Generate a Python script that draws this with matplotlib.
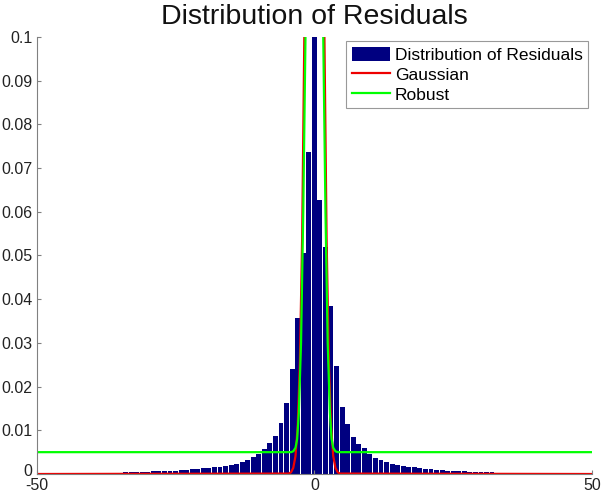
import matplotlib.pyplot as plt
import matplotlib.transforms as mtransforms
import numpy as np

plt.rcParams['font.family'] = ['Liberation Sans', 'DejaVu Sans']

# histogram bin centres -50..50 and heights
bin_centres = np.arange(-50, 51)
left_tail = [0, 0, 0, 0.00002, 0.00003, 0.00004, 0.00005, 0.00006,
             0.00008, 0.0001, 0.00012, 0.00015, 0.00018, 0.0002, 0.00025, 0.0003,
             0.00035, 0.0004, 0.00045, 0.0005, 0.00055, 0.0006, 0.00065, 0.0007,
             0.00075, 0.0008, 0.0009, 0.001, 0.0011, 0.0012, 0.0013, 0.0014,
             0.0015, 0.0017, 0.0019, 0.0021, 0.0024, 0.0028, 0.0033, 0.004,
             0.0046, 0.0058, 0.007, 0.0088, 0.0116, 0.0162, 0.0241, 0.0357,
             0.0505, 0.0736]                       # -50 .. -1
centre = [0.16]                                    # 0 (clipped)
right_tail = [0.0628, 0.052, 0.0385, 0.0248, 0.0154, 0.0114, 0.0085, 0.0068,
              0.0059, 0.0046, 0.0037, 0.0032, 0.0027, 0.0024, 0.0021, 0.0018,
              0.0016, 0.0015, 0.0013, 0.0012, 0.0011, 0.001, 0.0009, 0.0008,
              0.0007, 0.00065, 0.0006, 0.00055, 0.0005, 0.00045, 0.0004, 0.00035,
              0.0003, 0.00025, 0.0002, 0.00017, 0.00014, 0.00011, 0.00009, 0.00007,
              0.00005, 0.00004, 0.00003, 0.00002, 0, 0, 0, 0, 0, 0]  # 1 .. 50
hist_vals = left_tail + centre + right_tail

# fitted curves, points
gauss_x = [-50, -4.6, -4.2, -3.8, -3.4, -3.0, -2.6, -2.2, -1.8, -1.4, -1.0, -0.5, 0,
           0.5, 1.0, 1.4, 1.8, 2.2, 2.6, 3.0, 3.4, 3.8, 4.2, 4.6, 50]
gauss_y = [0, 0.0001, 0.0004, 0.0014, 0.0041, 0.011, 0.026, 0.054, 0.101, 0.165, 0.238, 0.318, 0.35,
           0.318, 0.238, 0.165, 0.101, 0.054, 0.026, 0.011, 0.0041, 0.0014, 0.0004, 0.0001, 0]

robust_x = [-50, -4.2, -3.8, -3.4, -3.1, -2.8, -2.4, -2.0, -1.6, -1.0, 0,
            1.0, 1.6, 2.0, 2.4, 2.8, 3.1, 3.4, 3.8, 4.2, 50]
robust_y = [0.005, 0.005, 0.0052, 0.006, 0.008, 0.014, 0.03, 0.06, 0.1, 0.25, 0.4,
            0.25, 0.1, 0.06, 0.03, 0.014, 0.008, 0.006, 0.0052, 0.005, 0.005]

fig = plt.figure(figsize=(6.02, 4.95), dpi=100)
ax = fig.add_axes([0.061, 0.0424, 0.9224, 0.883])

bars = ax.bar(bin_centres, hist_vals, width=0.88, color='#000080', linewidth=0)
l_gauss, = ax.plot(gauss_x, gauss_y, color='#ee0000', lw=1.6)
l_rob, = ax.plot(robust_x, robust_y, color='#00ff00', lw=1.6)

ax.set_xlim(-50, 50)
ax.set_ylim(0, 0.1)
ax.set_xticks([-50, 0, 50])
ax.set_xticklabels(['-50', '0', '50'])
ax.set_yticks(np.arange(0, 0.1001, 0.01))
ax.set_yticklabels(['0', '0.01', '0.02', '0.03', '0.04', '0.05', '0.06', '0.07', '0.08', '0.09', '0.1'])

for s in ['top', 'right']:
    ax.spines[s].set_visible(False)
for s in ['left', 'bottom']:
    ax.spines[s].set_color('#808080')
    ax.spines[s].set_linewidth(0.8)
ax.tick_params(direction='in', length=3, color='#808080', labelsize=11.5, labelcolor='#222222')
ax.tick_params(axis='x', pad=3)
ax.tick_params(axis='y', pad=3)

# nudge the "0" on the y axis up a little so it doesn't touch "-50"
lab0 = ax.get_yticklabels()[0]
lab0.set_transform(lab0.get_transform() + mtransforms.ScaledTranslation(0, 3 / 72, fig.dpi_scale_trans))

ax.set_title('Distribution of Residuals', fontsize=20.5, color='#111111', pad=9)

leg = ax.legend([bars, l_gauss, l_rob], ['Distribution of Residuals', 'Gaussian', 'Robust'],
                loc='upper right', bbox_to_anchor=(0.993, 0.99), borderaxespad=0,
                fancybox=False, edgecolor='#808080', fontsize=12.5, handlelength=2.2,
                handleheight=0.9, handletextpad=0.3, labelspacing=0.22, borderpad=0.3)
leg.get_frame().set_linewidth(0.8)

plt.savefig('out.png', dpi=100)
